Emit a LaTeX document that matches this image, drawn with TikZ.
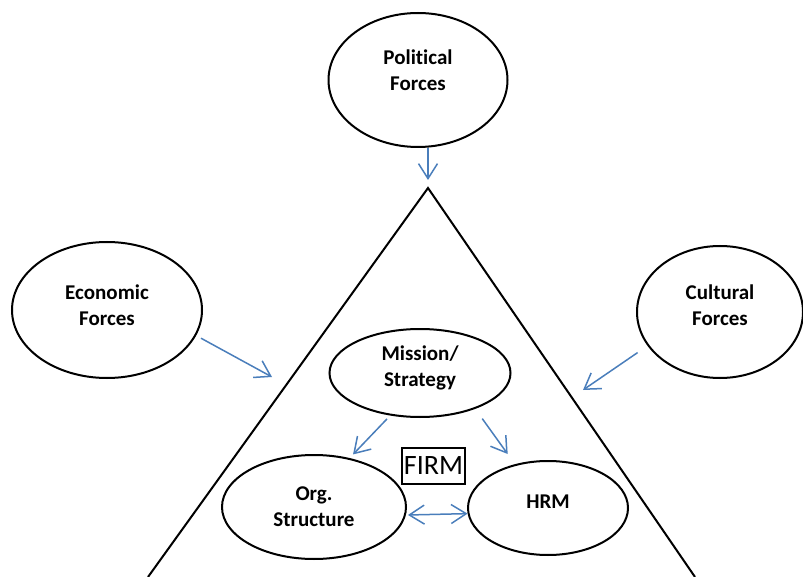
\documentclass[tikz,border=0pt]{standalone}
\usepackage{fontspec}
\setmainfont{Carlito}[Ligatures=NoCommon]
\usetikzlibrary{shapes.geometric,arrows.meta}
\definecolor{arrowblue}{RGB}{74,126,187}
\newcommand{\padlow}[1]{\rule[-#1]{0pt}{0pt}}

\begin{document}
\begin{tikzpicture}[x=1pt,y=-1pt,>={Straight Barb[length=15pt,width=19pt]},
    force/.style={ellipse,draw,line width=2pt,inner sep=0pt,align=center,font=\fontsize{21}{26}\selectfont\bfseries},
    arr/.style={->,draw=arrowblue,line width=1.5pt}]
    \useasboundingbox (0,0) rectangle (803,577);
    % the firm
    \coordinate (apex) at (428,188);
    \coordinate (baseL) at (148,577);
    \coordinate (baseR) at (695,577);
    \draw[line width=2pt] (baseL) -- (apex) -- (baseR);
    % outside forces
    \node[force,minimum width=179pt,minimum height=134pt] (pol) at (418,80) {Political\\Forces\padlow{20pt}};
    \node[force,minimum width=190pt,minimum height=136pt] (econ) at (107,310) {Economic\\Forces\padlow{10pt}};
    \node[force,minimum width=166pt,minimum height=132pt] (cult) at (720,312) {Cultural\\Forces\padlow{14pt}};
    % inside the firm
    \node[force,minimum width=181pt,minimum height=88pt] (mis) at (420,373) {Mission/\\Strategy\padlow{14pt}};
    \node[force,minimum width=184pt,minimum height=104pt] (org) at (314,507) {Org.\\Structure};
    \node[force,minimum width=160pt,minimum height=94pt] (hrm) at (548,508) {HRM\padlow{12pt}};
    \node[draw,line width=1.5pt,minimum width=63pt,minimum height=36pt,inner sep=1pt,font=\fontsize{28}{30}\selectfont] (firm) at (433.5,466) {FIRM};
    \coordinate (econtip) at (272,377);
    \coordinate (culttip) at (583,390);
    % arrows
    \draw[arr,shorten >=8pt] (apex |- pol.south) -- (apex);
    \draw[arr,shorten <=5.5pt] (econ.-16) -- (econtip);
    \draw[arr,shorten <=12pt] (cult.205) -- (culttip);
    \draw[arr,shorten <=4.6pt,shorten >=5pt] (mis.235) -- (org.54);
    \draw[arr,shorten <=12pt,shorten >=12.5pt] (mis.-33) -- (hrm.127);
    \draw[arr,<->,shorten <=2pt] (org.-5) -- (hrm.184);
\end{tikzpicture}
\end{document}
